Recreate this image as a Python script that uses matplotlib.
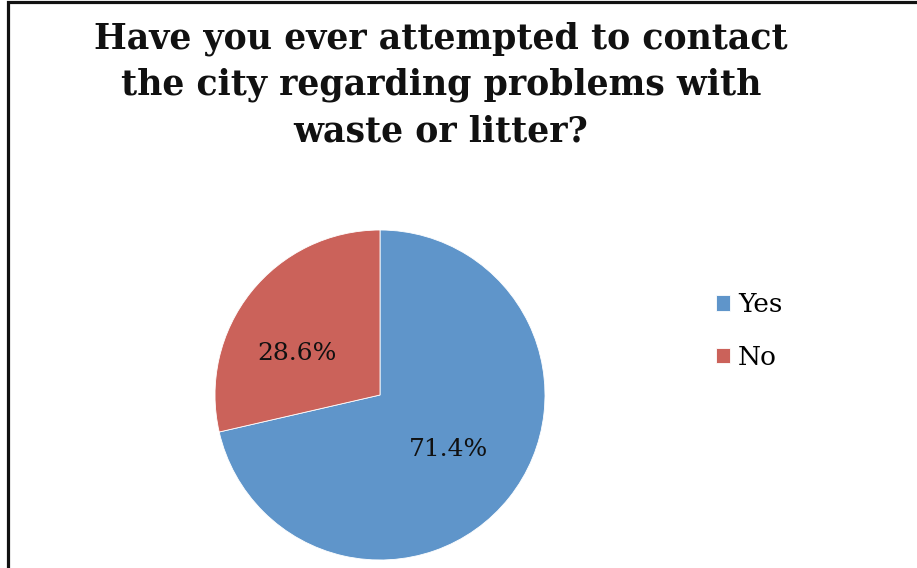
import numpy as np
import matplotlib.pyplot as plt
from matplotlib.patches import Rectangle

# survey answers
labels = ["Yes", "No"]
shares = [71.4, 28.6]
colors = ["#5F95CA", "#CB625A"]
title = "Have you ever attempted to contact\nthe city regarding problems with\nwaste or litter?"

fig = plt.figure(figsize=(9.17, 5.68), dpi=100)
fig.patch.set_facecolor("white")

# chart frame (only left and top edges fall inside the image)
fig.patches.append(Rectangle((7.5 / 917, -0.1), 1.2, (568 - 2.5) / 568 + 0.1,
                             transform=fig.transFigure, fill=False,
                             edgecolor="#111111", linewidth=2.3))

fig.text(441 / 917, 1 - 85 / 568, title, ha="center", va="center",
         fontsize=25, fontweight="bold", family="DejaVu Serif",
         linespacing=1.45, color="#111111")

ax = fig.add_axes([215 / 917, 8 / 568, 330 / 917, 330 / 568])
wedges, texts, autotexts = ax.pie(
    shares, colors=colors, startangle=90, counterclock=False,
    autopct="%.1f%%", pctdistance=0.53,
    wedgeprops=dict(edgecolor="white", linewidth=0.6),
    textprops=dict(fontsize=18, family="DejaVu Serif", color="#111111"))

# nudge the small slice's label toward the upper-left of its wedge
w = wedges[1]
ang = np.deg2rad((w.theta1 + w.theta2) / 2 + 12)
autotexts[1].set_position((0.56 * np.cos(ang), 0.56 * np.sin(ang)))

ax.set_xlim(-1, 1)
ax.set_ylim(-1, 1)
ax.set_aspect("equal")

leg = fig.legend(wedges, labels, loc="center left",
                 bbox_to_anchor=(692 / 917, 1 - 331 / 568), frameon=False,
                 prop=dict(family="DejaVu Serif", size=19),
                 handlelength=0.55, handleheight=0.55, handletextpad=0.3,
                 labelspacing=1.05)

fig.savefig("out.png", dpi=100)
